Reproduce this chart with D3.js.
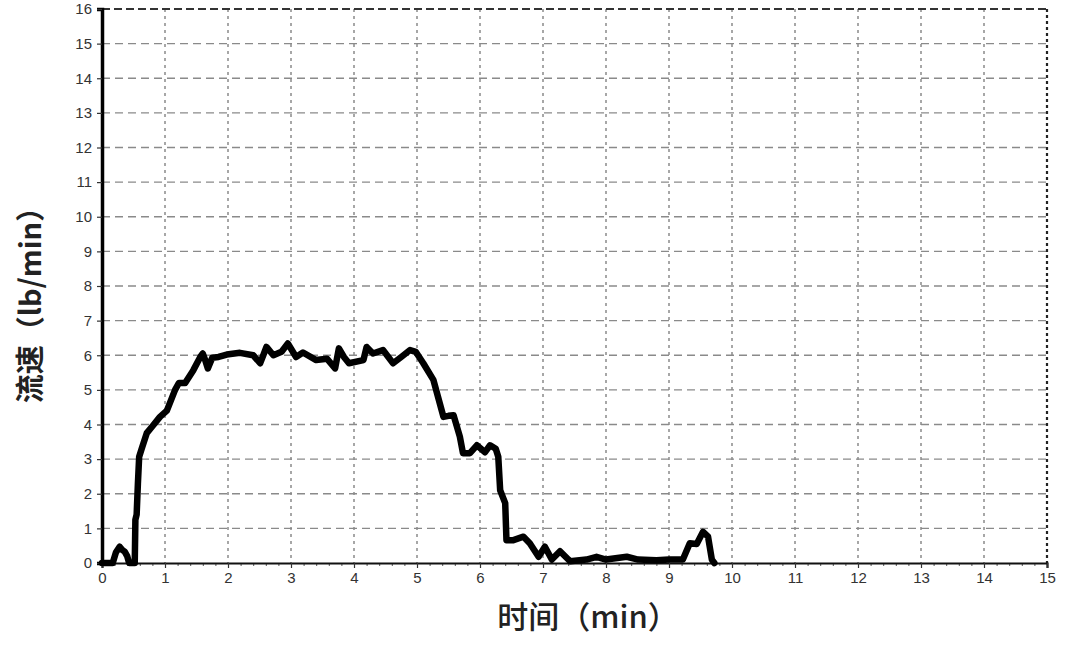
<!DOCTYPE html>
<html><head><meta charset="utf-8">
<script src="https://cdn.jsdelivr.net/npm/d3@7"></script>
<style>
html,body{margin:0;padding:0;background:#fff;}
svg{display:block;}
</style></head>
<body>
<svg id="chart" width="1080" height="654"></svg>
<script>
// data
const timeMin = [0, 0.17, 0.22, 0.28, 0.32, 0.36, 0.40, 0.43, 0.52, 0.53, 0.55, 0.57, 0.59, 0.63, 0.71, 0.8, 0.92, 1.03, 1.16, 1.22, 1.32, 1.45, 1.56, 1.6, 1.64, 1.68, 1.75, 1.85, 1.98, 2.19, 2.4, 2.51, 2.56, 2.61, 2.72, 2.85, 2.95, 3.08, 3.19, 3.4, 3.57, 3.7, 3.76, 3.84, 3.92, 4.15, 4.2, 4.3, 4.46, 4.62, 4.75, 4.89, 4.98, 5.1, 5.26, 5.42, 5.5, 5.58, 5.68, 5.73, 5.84, 5.95, 6.08, 6.16, 6.25, 6.29, 6.32, 6.4, 6.42, 6.53, 6.69, 6.79, 6.93, 7.03, 7.14, 7.27, 7.43, 7.69, 7.85, 8.0, 8.33, 8.51, 8.8, 9.0, 9.22, 9.33, 9.44, 9.54, 9.62, 9.68, 9.72];
const flow    = [0, 0, 0.3, 0.47, 0.38, 0.33, 0.2, 0, 0, 1.25, 1.4, 2.3, 3.07, 3.3, 3.75, 3.95, 4.22, 4.4, 5.0, 5.2, 5.2, 5.57, 5.95, 6.05, 5.85, 5.62, 5.93, 5.95, 6.02, 6.07, 6.0, 5.77, 6.0, 6.24, 6.0, 6.1, 6.34, 5.95, 6.08, 5.86, 5.9, 5.62, 6.2, 5.95, 5.77, 5.86, 6.24, 6.05, 6.15, 5.77, 5.95, 6.15, 6.1, 5.77, 5.29, 4.22, 4.25, 4.27, 3.65, 3.17, 3.17, 3.4, 3.2, 3.4, 3.3, 3.07, 2.1, 1.73, 0.66, 0.66, 0.76, 0.57, 0.18, 0.47, 0.1, 0.34, 0.05, 0.1, 0.18, 0.1, 0.18, 0.1, 0.08, 0.1, 0.1, 0.57, 0.55, 0.9, 0.76, 0.1, 0];
const xTicks = [0,1,2,3,4,5,6,7,8,9,10,11,12,13,14,15];
const yTicks = [0,1,2,3,4,5,6,7,8,9,10,11,12,13,14,15,16];
const xTitle = "时间（min）";
const yTitle = "流速（lb/min）";

const svg = d3.select("#chart");
const L = 102, R = 1047, T = 9, B = 563;
const x = d3.scaleLinear().domain([0, 15]).range([L, R]);
const y = d3.scaleLinear().domain([0, 16]).range([B, T]);

// grid
const g = svg.append("g");
g.selectAll(".hg").data(yTicks.filter(d => d > 0 && d < 16)).enter().append("line")
  .attr("x1", L).attr("x2", R).attr("y1", d => y(d)).attr("y2", d => y(d))
  .attr("stroke", "#8a8a8a").attr("stroke-width", 1.3).attr("stroke-dasharray", "8,5");
g.selectAll(".vg").data(xTicks.filter(d => d > 0 && d < 15)).enter().append("line")
  .attr("x1", d => x(d)).attr("x2", d => x(d)).attr("y1", T).attr("y2", B)
  .attr("stroke", "#8a8a8a").attr("stroke-width", 1.5).attr("stroke-dasharray", "3,4");

// top and right borders
svg.append("line").attr("x1", L).attr("x2", R).attr("y1", T).attr("y2", T)
  .attr("stroke", "#333").attr("stroke-width", 1.8).attr("stroke-dasharray", "8,4");
svg.append("line").attr("x1", R).attr("x2", R).attr("y1", T).attr("y2", B)
  .attr("stroke", "#222").attr("stroke-width", 2.2).attr("stroke-dasharray", "3,3");

// axes
const xAxis = d3.axisBottom(x).tickValues(xTicks).tickSize(5).tickPadding(4).tickFormat(d3.format("d"));
const yAxis = d3.axisLeft(y).tickValues(yTicks).tickSize(5).tickPadding(5).tickFormat(d3.format("d"));

// minor ticks
const xMinor = d3.axisBottom(x).tickValues(d3.range(0, 15.01, 0.2)).tickSize(3).tickFormat("");
svg.append("g").attr("transform", `translate(0,${B})`).call(xMinor)
  .call(s => s.select(".domain").remove())
  .call(s => s.selectAll("line").attr("stroke", "#555"));

const gx = svg.append("g").attr("transform", `translate(0,${B})`).call(xAxis);
gx.select(".domain").attr("stroke", "#111").attr("stroke-width", 2.2);
gx.selectAll("line").attr("stroke", "#333").attr("stroke-width", 1.2);
gx.selectAll("text").attr("font-family", "Liberation Sans, Arial, sans-serif").attr("font-size", 15).attr("fill", "#333");

const gy = svg.append("g").attr("transform", `translate(${L},0)`).call(yAxis);
gy.select(".domain").attr("stroke", "#000").attr("stroke-width", 3.5);
gy.selectAll("line").attr("stroke", "#333").attr("stroke-width", 1.2);
gy.selectAll("text").attr("font-family", "Liberation Sans, Arial, sans-serif").attr("font-size", 15).attr("fill", "#333");

// data line
const line = d3.line().x((d, i) => x(timeMin[i])).y((d, i) => y(flow[i]));
svg.append("path").datum(flow).attr("d", line)
  .attr("fill", "none").attr("stroke", "#000").attr("stroke-width", 6.5)
  .attr("stroke-linejoin", "round").attr("stroke-linecap", "round");

// titles
svg.append("text").attr("x", 588).attr("y", 628).attr("text-anchor", "middle")
  .attr("font-family", "Noto Sans CJK SC, sans-serif").attr("font-size", 31).attr("font-weight", 500)
  .attr("fill", "#222").text(xTitle);
svg.append("text").attr("transform", `translate(41,${298}) rotate(-90)`).attr("text-anchor", "middle")
  .attr("font-family", "Noto Sans CJK SC, sans-serif").attr("font-size", 29).attr("font-weight", 700)
  .attr("fill", "#222").text(yTitle);
</script>
</body></html>
